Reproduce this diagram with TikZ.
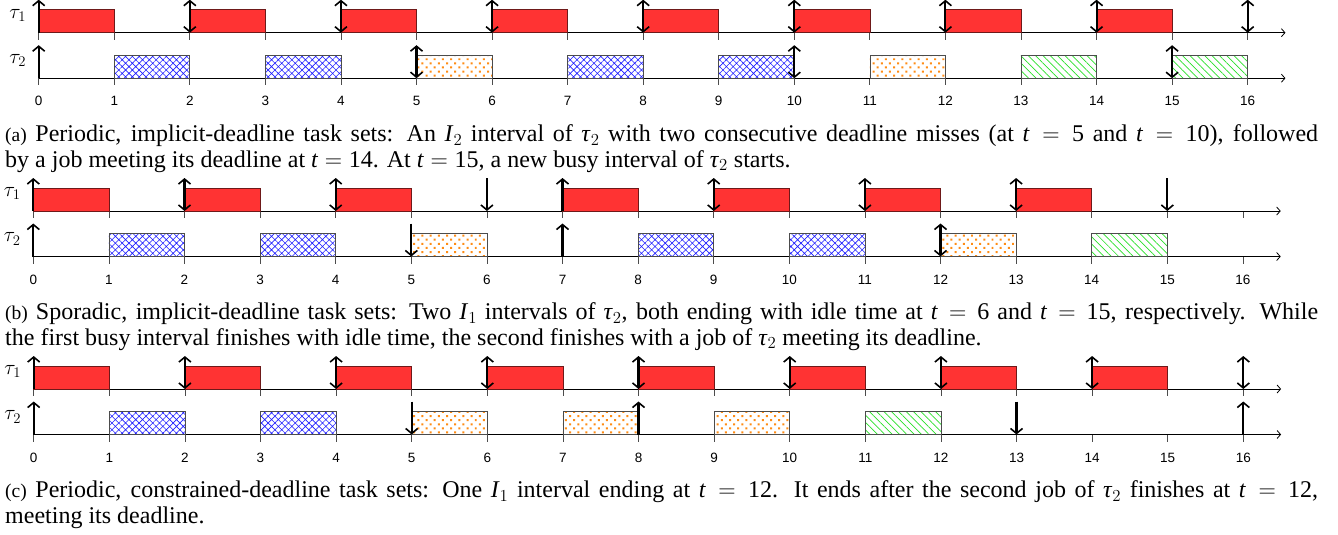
\RequirePackage{fix-cm}
\documentclass[tikz,border=0pt]{standalone}
\usepackage{fontspec}
\setmainfont{Liberation Serif}
\newfontfamily\ticksans{Liberation Sans}
\usetikzlibrary{arrows.meta,patterns.meta}

\definecolor{jobred}{RGB}{255,51,51}
\definecolor{jobedge}{RGB}{110,25,25}
\definecolor{dotorange}{RGB}{255,140,20}
\definecolor{hatchgreen}{RGB}{40,225,40}
\definecolor{hatchblue}{RGB}{30,30,255}

\tikzset{
  axisline/.style={line width=0.8pt, -{Straight Barb[length=3.5pt,width=8pt]}},
  tickline/.style={line width=0.8pt, black!70},
  redjob/.style={fill=jobred, draw=jobedge, line width=0.7pt},
  bluejob/.style={draw=black!70, line width=0.7pt,
    pattern={Hatch[angle=45,distance=4.8pt,line width=0.6pt]}, pattern color=hatchblue},
  orangejob/.style={draw=black!70, line width=0.7pt,
    pattern={Dots[angle=45,distance=5.8pt,radius=1.4pt]}, pattern color=dotorange},
  greenjob/.style={draw=black!70, line width=0.7pt,
    pattern={Lines[angle=-45,distance=5.2pt,line width=0.7pt]}, pattern color=hatchgreen},
  ev/.style={line width=2.1pt},
  evtip/.style={ev, -{Straight Barb[length=5pt,width=12pt,line width=1.6pt]}},
  evtwo/.style={ev, {Straight Barb[length=5pt,width=12pt,line width=1.6pt]}-{Straight Barb[length=5pt,width=12pt,line width=1.6pt]}},
  tlabel/.style={font=\ticksans\fontsize{13.5}{15}\selectfont, inner sep=0pt},
  tasklabel/.style={font=\fontsize{21}{23}\selectfont, xshift=-21pt, inner sep=0pt},
  capline/.style={anchor=base west, inner sep=0pt, font=\fontsize{24}{26}\selectfont},
}

% one job of unit length starting at #2 on the row whose axis is at #3
\newcommand\jb[3]{\path[#1] (#2,#3) rectangle ({#2+1},{#3-23});}
% release, deadline, and release+deadline markers
\newcommand\evup[2]{\draw[evtip] (#1,#2) -- (#1,{#2-33});}
\newcommand\evdown[2]{\draw[evtip] (#1,{#2-33}) -- (#1,#2);}
\newcommand\evboth[2]{\draw[evtwo] (#1,#2) -- (#1,{#2-33});}

% axes, ticks and labels of one two-task schedule
\newcommand\panelframe[1]{%
  \foreach \rowy in {0,45.5} {
    \foreach \tk in {0,...,16} {\draw[tickline] (\tk,\rowy) -- (\tk,{\rowy+7});}
    \draw[axisline] (0,\rowy) -- (16.5,\rowy);
  }
  \node[tasklabel] (#1-tau1) at (0,-17.5) {$\tau_1$};
  \node[tasklabel] (#1-tau2) at (0,28) {$\tau_2$};
  \foreach \tk in {0,...,16} {\node[tlabel] (#1-t\tk) at (\tk,68.5) {\tk};}
}

% caption helpers
\newcommand\cvar[1]{\textit{#1}}
\newcommand\cvsub[2]{\textit{#1}$_{#2}$}
\newcommand\ceq{${}={}$}
\newcommand\sublabel[1]{{\fontsize{19.5}{22}\selectfont(#1)}}

\begin{document}
\begin{tikzpicture}[x=1pt, y=-1pt]
\fill[white] (0,0) rectangle (1338,535);
\useasboundingbox (0,0) rectangle (1338,535);

% (a) periodic, implicit deadlines
\begin{scope}[xshift=38.7pt, yshift=-32.7pt, x=75.56pt, y=-1pt]
  \panelframe{a}
  \foreach \s in {0,2,...,14} {\jb{redjob}{\s}{0}}
  \foreach \s in {1,3,7,9} {\jb{bluejob}{\s}{45.5}}
  \foreach \s in {5,11} {\jb{orangejob}{\s}{45.5}}
  \foreach \s in {13,15} {\jb{greenjob}{\s}{45.5}}
  \evup{0}{0}
  \foreach \s in {2,4,...,16} {\evboth{\s}{0}}
  \evup{0}{45.5}
  \foreach \s in {5,10,15} {\evboth{\s}{45.5}}
\end{scope}
\node[capline] (capa1) at (5,141.7) {\makebox[1313pt][s]{\sublabel{a} Periodic, implicit-deadline task sets: An \cvsub{I}{2} interval of \cvsub{τ}{2} with two consecutive deadline misses (at \cvar{t}\ceq 5 and \cvar{t}\ceq 10), followed}};
\node[capline] (capa2) at (5,167.2) {by a job meeting its deadline at \cvar{t}\ceq 14. At \cvar{t}\ceq 15, a new busy interval of \cvsub{τ}{2} starts.};

% (b) sporadic, implicit deadlines
\begin{scope}[xshift=33.3pt, yshift=-211pt, x=75.6pt, y=-1pt]
  \panelframe{b}
  \foreach \s in {0,2,4,7,9,11,13} {\jb{redjob}{\s}{0}}
  \foreach \s in {1,3,8,10} {\jb{bluejob}{\s}{45.5}}
  \foreach \s in {5,12} {\jb{orangejob}{\s}{45.5}}
  \jb{greenjob}{14}{45.5}
  \evup{0}{0}
  \foreach \s in {2,4,9,11,13} {\evboth{\s}{0}}
  \evdown{6}{0}
  \evup{7}{0}
  \evdown{15}{0}
  \evup{0}{45.5}
  \evdown{5}{45.5}
  \evup{7}{45.5}
  \evboth{12}{45.5}
\end{scope}
\node[capline] (capb1) at (5,319.7) {\makebox[1313pt][s]{\sublabel{b} Sporadic, implicit-deadline task sets: Two \cvsub{I}{1} intervals of \cvsub{τ}{2}, both ending with idle time at \cvar{t}\ceq 6 and \cvar{t}\ceq 15, respectively. While}};
\node[capline] (capb2) at (5,345.2) {the first busy interval finishes with idle time, the second finishes with a job of \cvsub{τ}{2} meeting its deadline.};

% (c) periodic, constrained deadlines
\begin{scope}[xshift=33.7pt, yshift=-389pt, x=75.6pt, y=-1pt]
  \panelframe{c}
  \foreach \s in {0,2,...,14} {\jb{redjob}{\s}{0}}
  \foreach \s in {1,3} {\jb{bluejob}{\s}{45.5}}
  \foreach \s in {5,7,9} {\jb{orangejob}{\s}{45.5}}
  \jb{greenjob}{11}{45.5}
  \evup{0}{0}
  \foreach \s in {2,4,...,16} {\evboth{\s}{0}}
  \evup{0}{45.5}
  \evdown{5}{45.5}
  \evup{8}{45.5}
  \evdown{13}{45.5}
  \evup{16}{45.5}
\end{scope}
\node[capline] (capc1) at (5,497.7) {\makebox[1313pt][s]{\sublabel{c} Periodic, constrained-deadline task sets: One \cvsub{I}{1} interval ending at \cvar{t}\ceq 12. It ends after the second job of \cvsub{τ}{2} finishes at \cvar{t}\ceq 12,}};
\node[capline] (capc2) at (5,523.2) {meeting its deadline.};
\end{tikzpicture}
\end{document}
